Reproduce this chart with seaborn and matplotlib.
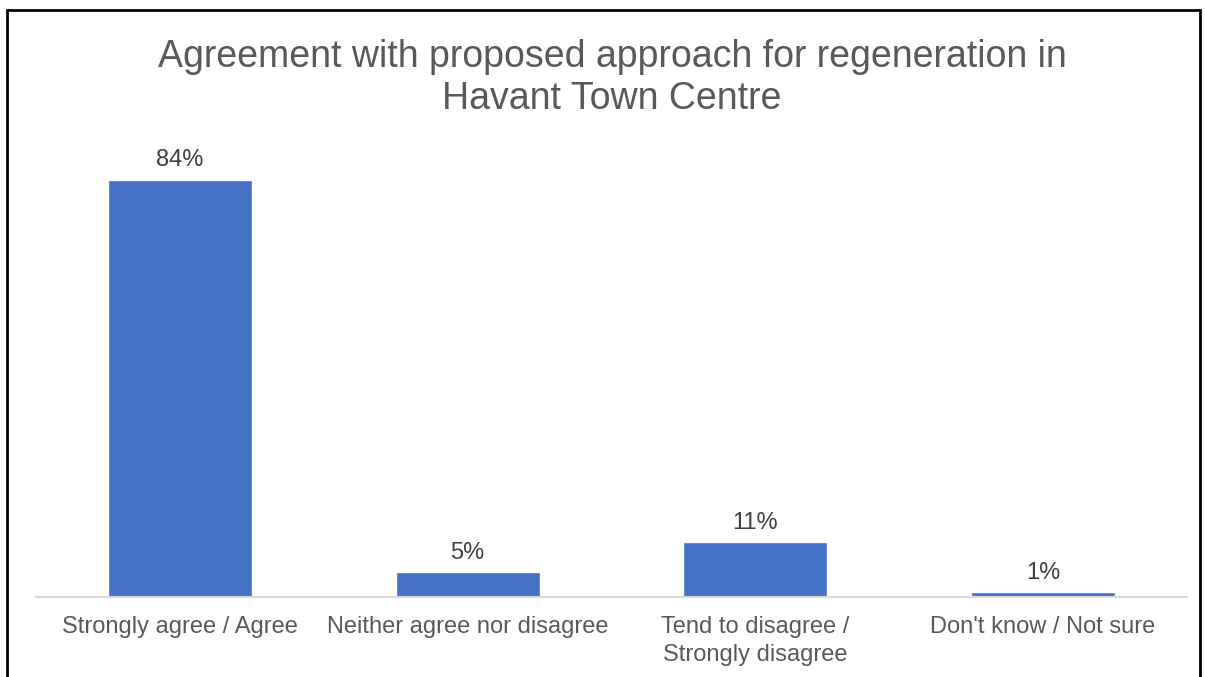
import matplotlib
matplotlib.use("Agg")
import matplotlib.pyplot as plt
import seaborn as sns
import pandas as pd
from matplotlib.patches import Rectangle

CATEGORIES = [
    "Strongly agree / Agree",
    "Neither agree nor disagree",
    "Tend to disagree /\nStrongly disagree",
    "Don't know / Not sure",
]
VALUES = [84, 5, 11, 1]
TITLE = "Agreement with proposed approach for regeneration in\nHavant Town Centre"

df = pd.DataFrame({"category": CATEGORIES, "value": VALUES})

sns.set_theme(style="white")
plt.rcParams["font.family"] = ["Liberation Sans", "DejaVu Sans"]

fig = plt.figure(figsize=(12.05, 6.77), dpi=100)
ax = fig.add_axes([36 / 1205, 80 / 677, 1151 / 1205, 447 / 677])

sns.barplot(df, x="category", y="value", color="#4472C4", width=0.5,
            saturation=1, ax=ax)

ax.set_ylim(0, 90)
ax.set_xlim(-0.5, 3.5)
ax.set_yticks([])
ax.set_xlabel("")
ax.set_ylabel("")
for side in ["top", "right", "left"]:
    ax.spines[side].set_visible(False)
ax.spines["bottom"].set_color("#D9D9D9")
ax.spines["bottom"].set_linewidth(1.5)
ax.tick_params(axis="x", length=0, pad=14, labelsize=17, labelcolor="#595959")
for lbl in ax.get_xticklabels():
    lbl.set_linespacing(1.3)

for i, v in enumerate(VALUES):
    ax.annotate(f"{v}%", (i, v), xytext=(0, 14), textcoords="offset points",
                ha="center", va="center", fontsize=17, color="#404040")

fig.text(0.508, 1 - 78 / 677, TITLE, ha="center", va="center", fontsize=27,
         color="#595959", linespacing=1.22)

fig.patches.append(Rectangle((7 / 1205, -0.1), 1193 / 1205, 1.1 - 10 / 677,
                             transform=fig.transFigure, fill=False,
                             edgecolor="black", linewidth=2))

fig.savefig("out.png", dpi=100)
